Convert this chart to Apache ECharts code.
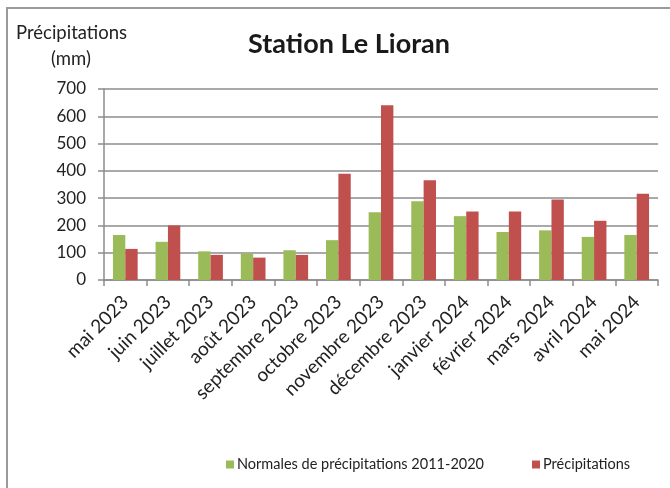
<!DOCTYPE html>
<html>
<head>
<meta charset="utf-8">
<script src="https://cdn.jsdelivr.net/npm/echarts@6/dist/echarts.min.js"></script>
<style>
  html, body { margin: 0; padding: 0; background: #fff; }
  #chart { width: 670px; height: 488px; }
</style>
</head>
<body>
<div id="chart"></div>
<script>
// mois
var months = ['mai 2023', 'juin 2023', 'juillet 2023', 'août 2023', 'septembre 2023', 'octobre 2023',
    'novembre 2023', 'décembre 2023', 'janvier 2024', 'février 2024', 'mars 2024', 'avril 2024', 'mai 2024'];
// normales 2011-2020
var normales = [165, 140, 105, 97, 109, 146, 248, 289, 234, 176, 182, 158, 165];
// précipitations mesurées
var precip = [114, 200, 92, 82, 92, 389, 640, 366, 251, 251, 295, 217, 316];
var yTicks = [0, 700, 100];   // min, max, pas

var font = 'Lato';
var myChart = echarts.init(document.getElementById('chart'));

var option = {
    animation: false,
    textStyle: { fontFamily: font },
    title: {
        text: 'Station Le Lioran',
        left: 344,
        textAlign: 'center',
        top: 26,
        textStyle: { fontFamily: font, fontSize: 27, fontWeight: 'bold', color: '#1a1a1a' }
    },
    graphic: [
        {
            // cadre du graphique
            type: 'rect',
            shape: { x: 7, y: 8, width: 700, height: 600 },
            style: { fill: 'none', stroke: '#9a9a9a', lineWidth: 2 },
            silent: true
        },
        {
            type: 'text',
            left: 16,
            top: 24,
            style: { text: 'Précipitations', fontFamily: font, fontSize: 18.5, fill: '#222' }
        },
        {
            type: 'text',
            left: 51,
            top: 50,
            style: { text: '(mm)', fontFamily: font, fontSize: 18.5, fill: '#222' }
        }
    ],
    legend: {
        bottom: 11,
        left: 221,
        itemWidth: 8,
        itemHeight: 8,
        itemGap: 48,
        icon: 'rect',
        textStyle: { fontFamily: font, fontSize: 14.5, color: '#222', padding: [0, 0, 0, -2] },
        data: ['Normales de précipitations 2011-2020', 'Précipitations']
    },
    grid: {
        left: 104,
        right: 12,
        top: 89,
        bottom: 208
    },
    xAxis: {
        type: 'category',
        data: months,
        axisLine: { lineStyle: { color: '#8c8c8c', width: 1.5 } },
        axisTick: { show: true, length: 6, alignWithLabel: false, lineStyle: { color: '#8c8c8c', width: 1.5 } },
        axisLabel: {
            rotate: 45,
            interval: 0,
            margin: 19,
            fontFamily: font,
            fontSize: 19,
            color: '#222'
        }
    },
    yAxis: {
        type: 'value',
        min: yTicks[0],
        max: yTicks[1],
        interval: yTicks[2],
        axisLine: { show: true, lineStyle: { color: '#8c8c8c', width: 1.5 } },
        axisTick: { show: true, length: 6, lineStyle: { color: '#8c8c8c', width: 1.5 } },
        axisLabel: { fontFamily: font, fontSize: 17, color: '#222', margin: 18 },
        splitLine: { lineStyle: { color: '#8c8c8c', width: 1.5 } }
    },
    series: [
        {
            name: 'Normales de précipitations 2011-2020',
            type: 'bar',
            data: normales,
            barGap: '0%',
            barCategoryGap: '42%',
            itemStyle: { color: '#9bbb59' }
        },
        {
            name: 'Précipitations',
            type: 'bar',
            data: precip,
            barGap: '0%',
            barCategoryGap: '42%',
            itemStyle: { color: '#c0504d' }
        }
    ]
};

myChart.setOption(option);
</script>
</body>
</html>
